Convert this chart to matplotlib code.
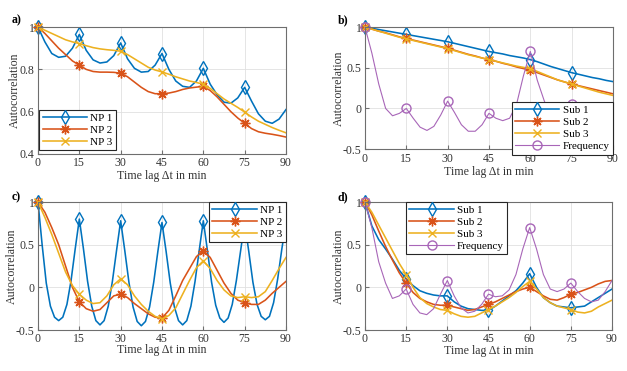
import numpy as np
import matplotlib
matplotlib.use('Agg')
import matplotlib.pyplot as plt
from matplotlib.ticker import FuncFormatter

plt.rcParams['font.family'] = ['Liberation Serif', 'DejaVu Serif']
plt.rcParams['font.size'] = 8

# time lag grids (min)
lag = np.arange(0, 91, 2.5)
lag_fine = np.arange(0, 91, 1.5)

# a) autocorrelation of the NPs
a_np1 = [1.0, 0.93, 0.875, 0.857, 0.862, 0.9, 0.965, 0.89, 0.845, 0.83, 0.835, 0.865, 0.925,
         0.85, 0.805, 0.787, 0.79, 0.82, 0.875, 0.8, 0.745, 0.72, 0.715, 0.745, 0.805,
         0.73, 0.68, 0.645, 0.64, 0.665, 0.715, 0.65, 0.59, 0.555, 0.545, 0.565, 0.61]
a_np2 = [1.0, 0.97, 0.935, 0.9, 0.87, 0.84, 0.82, 0.8, 0.79, 0.787, 0.787, 0.786, 0.782,
         0.765, 0.74, 0.715, 0.695, 0.685, 0.685, 0.688, 0.695, 0.705, 0.712, 0.716, 0.72,
         0.7, 0.67, 0.635, 0.6, 0.57, 0.545, 0.52, 0.505, 0.498, 0.493, 0.487, 0.48]
a_np3 = [1.0, 0.985, 0.97, 0.955, 0.94, 0.93, 0.922, 0.912, 0.903, 0.897, 0.893, 0.89, 0.886,
         0.87, 0.85, 0.83, 0.81, 0.797, 0.788, 0.777, 0.765, 0.755, 0.745, 0.738, 0.73,
         0.71, 0.685, 0.66, 0.64, 0.62, 0.598, 0.575, 0.555, 0.54, 0.525, 0.512, 0.5]

# b) substations + frequency
b_sub1 = [1.0, 0.985, 0.97, 0.955, 0.94, 0.925, 0.91, 0.895, 0.88, 0.865, 0.85, 0.835, 0.82,
          0.8, 0.78, 0.76, 0.74, 0.72, 0.70, 0.685, 0.67, 0.65, 0.635, 0.62, 0.60,
          0.575, 0.545, 0.515, 0.49, 0.465, 0.44, 0.42, 0.4, 0.38, 0.365, 0.345, 0.33]
b_sub2 = [1.0, 0.975, 0.95, 0.93, 0.905, 0.88, 0.86, 0.84, 0.82, 0.8, 0.78, 0.76, 0.74,
          0.715, 0.69, 0.665, 0.645, 0.62, 0.60, 0.58, 0.555, 0.535, 0.51, 0.49, 0.47,
          0.44, 0.41, 0.38, 0.35, 0.325, 0.30, 0.28, 0.26, 0.24, 0.22, 0.2, 0.18]
b_sub3 = [1.0, 0.975, 0.95, 0.925, 0.9, 0.875, 0.855, 0.835, 0.815, 0.795, 0.775, 0.755, 0.735,
          0.71, 0.685, 0.66, 0.64, 0.62, 0.60, 0.58, 0.56, 0.54, 0.52, 0.505, 0.49,
          0.455, 0.42, 0.385, 0.35, 0.325, 0.30, 0.275, 0.25, 0.225, 0.2, 0.18, 0.16]
b_freq = [1.0, 0.68, 0.3, 0.0, -0.09, -0.06, 0.0, -0.12, -0.23, -0.27, -0.22, -0.08, 0.09,
          -0.05, -0.2, -0.28, -0.28, -0.2, -0.06, -0.12, -0.15, -0.12, 0.05, 0.4, 0.7,
          0.35, 0.1, -0.12, -0.2, -0.1, 0.05, -0.1, -0.18, -0.2, -0.15, -0.05, 0.05]

# c) NPs, daily pattern
c_np1 = [1.0, 0.5, 0.05, -0.22, -0.35, -0.39, -0.35, -0.2, 0.08, 0.45,
         0.8, 0.45, 0.07, -0.22, -0.39, -0.44, -0.39, -0.22, 0.07, 0.43,
         0.78, 0.43, 0.06, -0.23, -0.4, -0.45, -0.4, -0.23, 0.06, 0.42,
         0.76, 0.42, 0.05, -0.23, -0.39, -0.44, -0.39, -0.22, 0.07, 0.43,
         0.78, 0.43, 0.06, -0.21, -0.36, -0.41, -0.36, -0.2, 0.08, 0.42,
         0.76, 0.42, 0.06, -0.2, -0.34, -0.38, -0.34, -0.18, 0.1, 0.45, 0.76]
c_np2 = [1.0, 0.88, 0.7, 0.5, 0.25, 0.0, -0.17, -0.25, -0.28, -0.26, -0.18, -0.1, -0.08,
         -0.12, -0.19, -0.25, -0.31, -0.35, -0.36, -0.27, -0.1, 0.08, 0.22, 0.36, 0.43,
         0.35, 0.2, 0.05, -0.07, -0.15, -0.18, -0.2, -0.2, -0.15, -0.07, 0.0, 0.07]
c_np3 = [1.0, 0.82, 0.62, 0.4, 0.18, 0.02, -0.08, -0.15, -0.19, -0.18, -0.1, 0.03, 0.1,
         0.03, -0.1, -0.2, -0.28, -0.34, -0.37, -0.33, -0.24, -0.08, 0.08, 0.23, 0.31,
         0.22, 0.08, -0.03, -0.1, -0.12, -0.11, -0.12, -0.11, -0.05, 0.08, 0.22, 0.35]

# d) substations + frequency, daily pattern
d_sub1 = [1.0, 0.72, 0.56, 0.45, 0.33, 0.2, 0.1, 0.02, -0.04, -0.07, -0.09, -0.1, -0.1,
          -0.17, -0.22, -0.25, -0.26, -0.27, -0.27, -0.22, -0.16, -0.1, -0.04, 0.05, 0.16,
          0.0, -0.12, -0.18, -0.22, -0.23, -0.24, -0.23, -0.22, -0.17, -0.12, -0.07, -0.02]
d_sub2 = [1.0, 0.85, 0.66, 0.48, 0.32, 0.17, 0.05, -0.06, -0.13, -0.17, -0.2, -0.21, -0.21,
          -0.23, -0.25, -0.27, -0.26, -0.23, -0.2, -0.17, -0.13, -0.09, -0.05, -0.02, 0.0,
          -0.05, -0.1, -0.14, -0.15, -0.12, -0.08, -0.06, -0.03, 0.0, 0.04, 0.07, 0.08]
d_sub3 = [1.0, 0.88, 0.73, 0.58, 0.43, 0.28, 0.15, 0.0, -0.12, -0.19, -0.23, -0.26, -0.27,
          -0.31, -0.34, -0.35, -0.34, -0.3, -0.26, -0.22, -0.17, -0.12, -0.06, 0.01, 0.07,
          -0.02, -0.12, -0.18, -0.22, -0.24, -0.26, -0.29, -0.3, -0.28, -0.23, -0.19, -0.15]
d_freq = [1.0, 0.7, 0.3, 0.05, -0.13, -0.1, -0.02, -0.2, -0.3, -0.32, -0.25, -0.08, 0.08,
          -0.1, -0.24, -0.3, -0.28, -0.2, -0.08, -0.11, -0.1, -0.03, 0.15, 0.45, 0.7,
          0.45, 0.15, -0.02, -0.05, -0.02, 0.05, -0.05, -0.13, -0.17, -0.15, -0.05, 0.08]

BLUE, ORANGE, YELLOW, PURPLE = '#0072BD', '#D95319', '#EDB120', '#A866B8'
STAR = (8, 2, 0)
every = [0, 6, 12, 18, 24, 30]
every_fine = [0, 10, 20, 30, 40, 50]


def curve(ax, x, y, color, marker, label, ms, idx=every, lw=1.15):
    ax.plot(x, y, color=color, lw=lw, marker=marker, markevery=idx, ms=ms,
            mfc='none', mec=color, mew=1.0, label=label, clip_on=False)


def setup(ax, ylim, yticks, xlab_y, ylab_x):
    ax.set_xlim(0, 90)
    ax.set_ylim(*ylim)
    ax.set_xticks(range(0, 91, 15))
    ax.set_yticks(yticks)
    ax.yaxis.set_major_formatter(FuncFormatter(lambda v, p: f'{v:g}'))
    ax.grid(True, color='#e0e0e0', lw=0.6)
    ax.set_axisbelow(True)
    ax.tick_params(direction='in', length=3, color='#707070', labelcolor='#333333',
                   labelsize=8.5, pad=2.5)
    for s in ax.spines.values():
        s.set_color('#6e6e6e')
        s.set_linewidth(0.8)
    ax.set_xlabel('Time lag Δt in min', color='#333333', fontsize=8.6)
    ax.set_ylabel('Autocorrelation', color='#333333', fontsize=8.6)
    ax.xaxis.set_label_coords(0.5, xlab_y)
    ax.yaxis.set_label_coords(ylab_x, 0.5)


def legend(ax, loc, anchor):
    leg = ax.legend(loc=loc, bbox_to_anchor=anchor, fancybox=False, framealpha=1,
                    edgecolor='#262626', borderpad=0.3, labelspacing=0.2,
                    handlelength=4.0, handletextpad=0.3, borderaxespad=0, fontsize=8)
    leg.get_frame().set_linewidth(0.8)
    leg.set_zorder(10)


fig = plt.figure(figsize=(6.27, 3.71), dpi=100)
ax_a = fig.add_axes([0.0606, 0.585, 0.3955, 0.342])
ax_b = fig.add_axes([0.5821, 0.598, 0.3955, 0.329])
ax_c = fig.add_axes([0.0606, 0.1105, 0.3955, 0.345])
ax_d = fig.add_axes([0.5821, 0.1105, 0.394, 0.345])

curve(ax_a, lag, a_np1, BLUE, 'd', 'NP 1', 7)
curve(ax_a, lag, a_np2, ORANGE, STAR, 'NP 2', 7)
curve(ax_a, lag, a_np3, YELLOW, 'x', 'NP 3', 5.5)
setup(ax_a, (0.4, 1.0), [0.4, 0.6, 0.8, 1.0], -0.13, -0.069)
legend(ax_a, 'lower left', (0.005, 0.03))

curve(ax_b, lag, b_sub1, BLUE, 'd', 'Sub 1', 7)
curve(ax_b, lag, b_sub2, ORANGE, STAR, 'Sub 2', 7)
curve(ax_b, lag, b_sub3, YELLOW, 'x', 'Sub 3', 5.5)
curve(ax_b, lag, b_freq, PURPLE, 'o', 'Frequency', 6.5, lw=0.8)
setup(ax_b, (-0.5, 1.0), [-0.5, 0, 0.5, 1.0], -0.14, -0.08)
legend(ax_b, 'lower right', (1.0, -0.045))

curve(ax_c, lag_fine, c_np1, BLUE, 'd', 'NP 1', 7, idx=every_fine)
curve(ax_c, lag, c_np2, ORANGE, STAR, 'NP 2', 7)
curve(ax_c, lag, c_np3, YELLOW, 'x', 'NP 3', 5.5)
setup(ax_c, (-0.5, 1.0), [-0.5, 0, 0.5, 1.0], -0.11, -0.08)
legend(ax_c, 'upper right', (1.0, 1.0))

curve(ax_d, lag, d_sub1, BLUE, 'd', 'Sub 1', 7)
curve(ax_d, lag, d_sub2, ORANGE, STAR, 'Sub 2', 7)
curve(ax_d, lag, d_sub3, YELLOW, 'x', 'Sub 3', 5.5)
curve(ax_d, lag, d_freq, PURPLE, 'o', 'Frequency', 6.5, lw=0.8)
setup(ax_d, (-0.5, 1.0), [-0.5, 0, 0.5, 1.0], -0.12, -0.08)
legend(ax_d, 'upper left', (0.166, 1.0))

for x, y, s in [(0.019, 0.945, 'a)'), (0.539, 0.945, 'b)'), (0.019, 0.469, 'c)'), (0.539, 0.469, 'd)')]:
    fig.text(x, y, s, fontweight='bold', fontsize=8.5, va='center')

fig.savefig('out.png', dpi=100)
